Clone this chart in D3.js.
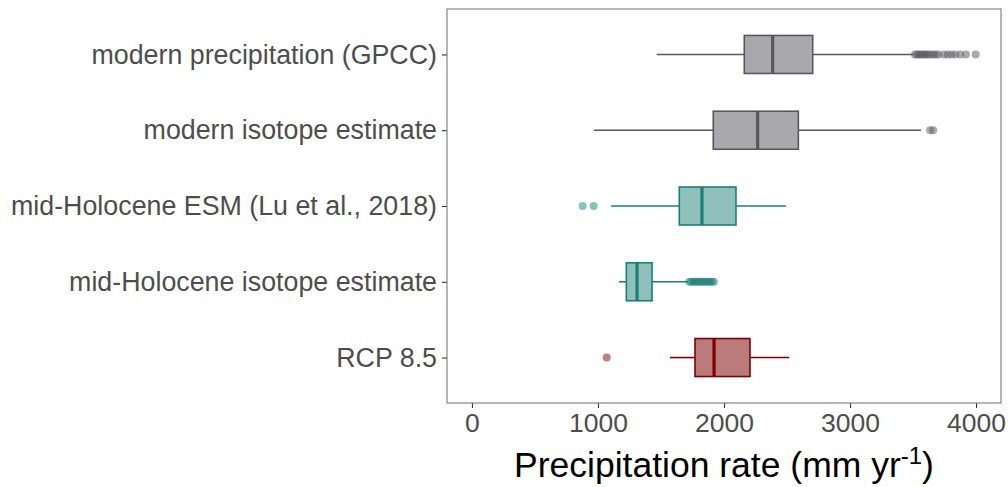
<!DOCTYPE html>
<html>
<head>
<meta charset="utf-8">
<script src="https://cdn.jsdelivr.net/npm/d3@7"></script>
<style>
  body { margin: 0; background: #fff; }
  text { font-family: "Liberation Sans", Arial, sans-serif; }
</style>
</head>
<body>
<div id="chart"></div>
<script>
// categories, top to bottom
const categories = [
    'modern precipitation (GPCC)',
    'modern isotope estimate',
    'mid-Holocene ESM (Lu et al., 2018)',
    'mid-Holocene isotope estimate',
    'RCP 8.5'
];
// [whisker low, Q1, median, Q3, whisker high]
const stats = [
    [1466, 2161, 2386, 2704, 3503],
    [968, 1915, 2267, 2590, 3563],
    [1103, 1645, 1825, 2095, 2492],
    [1167, 1225, 1310, 1429, 1714],
    [1571, 1770, 1921, 2206, 2518]
];
const outliers = [
    [3515, 3530, 3545, 3560, 3575, 3590, 3605, 3620, 3640, 3660, 3680, 3700, 3745, 3775, 3805, 3835, 3875, 3920, 3997],
    [3635, 3660],
    [878, 966],
    [1725, 1740, 1755, 1770, 1785, 1800, 1815, 1830, 1845, 1860, 1875, 1890, 1905, 1920],
    [1069]
];
const xTicks = [0, 1000, 2000, 3000, 4000];
const strokeColors = ['#57575f', '#57575f', '#1b7f78', '#1b7f78', '#7f0000'];
const fillColors = ['#a9a9ad', '#a9a9ad', '#8fc0bb', '#8fc0bb', '#b97b7b'];

const width = 1008, height = 487;
const panel = { left: 447, right: 1001, top: 9, bottom: 403 };

const svg = d3.select('#chart').append('svg')
    .attr('width', width)
    .attr('height', height);

const x = d3.scaleLinear()
    .domain([-198, 4198])
    .range([panel.left, panel.right]);

const y = d3.scalePoint()
    .domain(categories)
    .range([panel.top, panel.bottom])
    .padding(0.6);

const boxHalf = 19;

// x axis
const xAxis = svg.append('g')
    .attr('transform', `translate(0,${panel.bottom})`)
    .call(d3.axisBottom(x).tickValues(xTicks).tickSize(5).tickPadding(5).tickFormat(d3.format('d')));
xAxis.select('.domain').remove();
xAxis.selectAll('line').attr('stroke', '#333').attr('stroke-width', 1.1);
xAxis.selectAll('text').attr('fill', '#4d4d4d').style('font-size', '26.5px');

// y axis
const yAxis = svg.append('g')
    .attr('transform', `translate(${panel.left},0)`)
    .call(d3.axisLeft(y).tickSize(5).tickPadding(5));
yAxis.select('.domain').remove();
yAxis.selectAll('line').attr('stroke', '#333').attr('stroke-width', 1.1);
yAxis.selectAll('text').attr('fill', '#4d4d4d').style('font-size', '26.8px');

// boxes
const rows = svg.append('g').selectAll('g')
    .data(categories)
    .join('g');

rows.each(function(cat, i) {
    const g = d3.select(this);
    const s = stats[i];
    const cy = y(cat);
    const sc = strokeColors[i];

    g.append('line')
        .attr('x1', x(s[0])).attr('x2', x(s[1]))
        .attr('y1', cy).attr('y2', cy)
        .attr('stroke', sc).attr('stroke-width', 1.6);
    g.append('line')
        .attr('x1', x(s[3])).attr('x2', x(s[4]))
        .attr('y1', cy).attr('y2', cy)
        .attr('stroke', sc).attr('stroke-width', 1.6);

    g.append('rect')
        .attr('x', x(s[1]))
        .attr('y', cy - boxHalf)
        .attr('width', x(s[3]) - x(s[1]))
        .attr('height', boxHalf * 2)
        .attr('fill', fillColors[i])
        .attr('stroke', sc)
        .attr('stroke-width', 1.6);

    g.append('line')
        .attr('x1', x(s[2])).attr('x2', x(s[2]))
        .attr('y1', cy - boxHalf).attr('y2', cy + boxHalf)
        .attr('stroke', sc).attr('stroke-width', 3.2);

    g.selectAll('circle')
        .data(outliers[i])
        .join('circle')
        .attr('cx', d => x(d))
        .attr('cy', cy)
        .attr('r', 4)
        .attr('fill', sc)
        .attr('fill-opacity', 0.5);
});

// panel border
svg.append('rect')
    .attr('x', panel.left)
    .attr('y', panel.top)
    .attr('width', panel.right - panel.left)
    .attr('height', panel.bottom - panel.top)
    .attr('fill', 'none')
    .attr('stroke', '#7a7a7a')
    .attr('stroke-width', 1.1);

// axis title
const title = svg.append('text')
    .attr('x', (panel.left + panel.right) / 2)
    .attr('y', 477)
    .attr('text-anchor', 'middle')
    .attr('fill', '#000')
    .style('font-size', '35.5px');
title.append('tspan').text('Precipitation rate (mm yr');
title.append('tspan').attr('dy', -13).style('font-size', '24px').text('-1');
title.append('tspan').attr('dy', 13).text(')');
</script>
</body>
</html>
